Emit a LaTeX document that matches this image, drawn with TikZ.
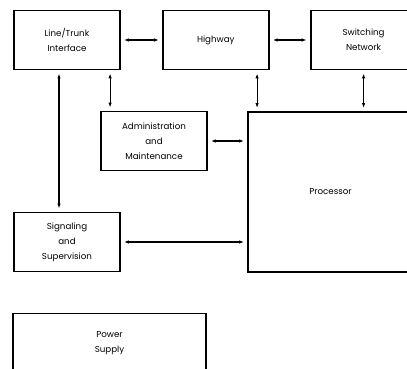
\documentclass[tikz,border=0pt]{standalone}
\usepackage{fontspec}
\setmainfont{Poppins}
\usetikzlibrary{arrows.meta,positioning}

\begin{document}
\begin{tikzpicture}[
  x=1pt, y=-1pt,
  font=\fontsize{8.7}{15}\selectfont,
  node distance=41pt,
  block/.style={draw, line width=1.8pt, minimum width=106pt, minimum height=59pt, align=center, inner sep=2pt},
  link/.style={{Latex[length=5pt,width=3.5pt]}-{Latex[length=5pt,width=3.5pt]}, line width=1.1pt, shorten <=3pt, shorten >=3pt}
]
\useasboundingbox[fill=white] (0,0) rectangle (407,369);
\node[block] (lti) at (67,40) {Line/Trunk\\Interface};
\node[block, right=of lti] (hwy) {Highway};
\node[block, right=40pt of hwy] (swn) {Switching\\Network};
\node[block] (adm) at (154,141) {Administration\\and\\Maintenance};
\node[block] (sig) at (67,242) {Signaling\\and\\Supervision};
\node[block, minimum width=165pt, minimum height=160pt] (proc) at (330.5,192) {Processor};
\node[block, minimum width=193pt] (pwr) at (109.5,343) {Power\\Supply};
% connections
\draw[link] (lti) -- (hwy);
\draw[link] (hwy) -- (swn);
\draw[link] ([xshift=-8pt]lti.south) -- ([xshift=-8pt]sig.north);
\draw[link] ([xshift=10pt]adm.north west |- lti.south) -- ([xshift=10pt]adm.north west);
\draw[link] ([xshift=10pt]proc.north west |- hwy.south) -- ([xshift=10pt]proc.north west);
\draw[link] (swn) -- (swn |- proc.north);
\draw[link] (adm) -- (adm -| proc.west);
\draw[link] (sig) -- (sig -| proc.west);
\end{tikzpicture}
\end{document}
